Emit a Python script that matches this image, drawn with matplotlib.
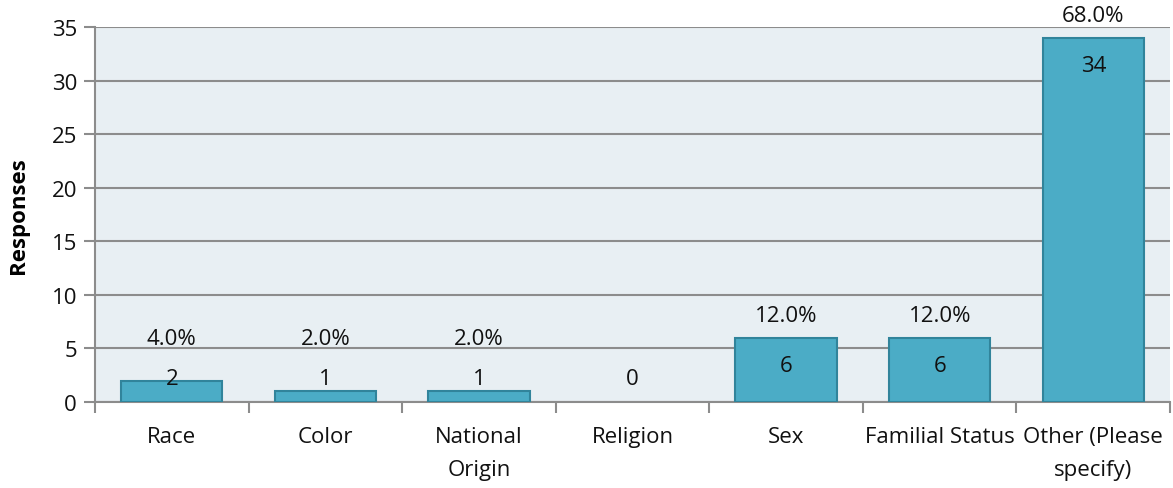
import numpy as np
import matplotlib.pyplot as plt

categories = ["Race", "Color", "National\nOrigin", "Religion", "Sex",
              "Familial Status", "Other (Please\nspecify)"]
responses = [2, 1, 1, 0, 6, 6, 34]
percents = ["4.0%", "2.0%", "2.0%", "", "12.0%", "12.0%", "68.0%"]

plt.rcParams['font.family'] = ['Open Sans', 'DejaVu Sans']
FS = 16

fig = plt.figure(figsize=(11.73, 4.89), dpi=100)
ax = fig.add_axes([0.081, 0.176, 0.9165, 0.7665])
ax.set_facecolor('#E8EFF3')

x = np.arange(len(categories))
edge = ['#31849B' if v > 0 else 'none' for v in responses]
ax.bar(x, responses, width=0.66, color='#4BACC6', edgecolor=edge,
       linewidth=1.5, zorder=3)

for xi, v, p in zip(x, responses, percents):
    ax.text(xi, max(v - 2.6, 2.15), str(v), ha='center', va='center',
            fontsize=FS, color='#111111', zorder=4)
    if p:
        ax.text(xi, max(v + 2.1, 5.9), p, ha='center', va='center',
                fontsize=FS, color='#111111', zorder=4, clip_on=False)

ax.set_xlim(-0.5, len(categories) - 0.5)
ax.set_ylim(0, 35)
ax.set_yticks(range(0, 36, 5))
ax.yaxis.grid(True, color='#8C8C8C', linewidth=1.5, zorder=1)
ax.set_axisbelow(True)

# boundary ticks as major, labels on minor ticks at centres
ax.set_xticks(np.arange(-0.5, len(categories), 1.0))
ax.set_xticklabels([])
ax.set_xticks(x, minor=True)
ax.set_xticklabels(categories, minor=True, fontsize=FS, color='#111111',
                   linespacing=1.75)
ax.tick_params(axis='x', which='major', length=8, width=1.5, color='#8C8C8C')
ax.tick_params(axis='x', which='minor', length=0, pad=17)
ax.tick_params(axis='y', length=8, width=1.5, color='#8C8C8C',
               labelsize=FS, labelcolor='#111111', pad=5)

for s in ['top', 'right']:
    ax.spines[s].set_visible(False)
for s in ['left', 'bottom']:
    ax.spines[s].set_color('#8C8C8C')
    ax.spines[s].set_linewidth(1.5)

ax.set_ylabel('Responses', fontsize=FS, fontweight='bold', labelpad=16)

fig.savefig('out.png', dpi=100)
